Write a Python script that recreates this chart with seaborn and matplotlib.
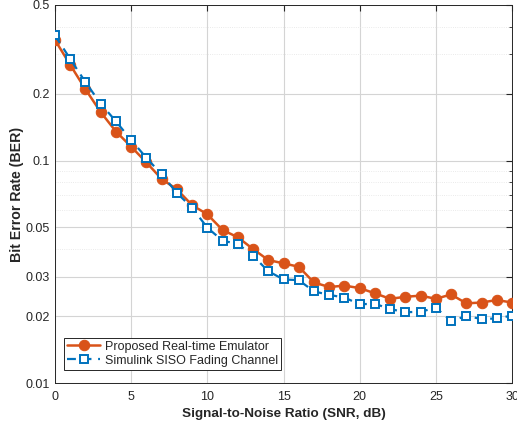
import numpy as np
import pandas as pd
import seaborn as sns
import matplotlib
matplotlib.use("Agg")
import matplotlib.pyplot as plt
from matplotlib.ticker import FixedLocator, NullFormatter, LogLocator

snr = list(range(0, 31))
ber_emulator = [0.348, 0.269, 0.209, 0.165, 0.135, 0.1154, 0.098, 0.0826, 0.0742, 0.063,
                0.0573, 0.0487, 0.0452, 0.040, 0.0357, 0.0345, 0.0333, 0.0283, 0.0270, 0.0274,
                0.0267, 0.0253, 0.0239, 0.0244, 0.0247, 0.0239, 0.0250, 0.0228, 0.0230, 0.0236,
                0.0230]
ber_simulink = [0.365, 0.286, 0.225, 0.180, 0.150, 0.1236, 0.1028, 0.0866, 0.0715, 0.0613,
                0.0499, 0.0436, 0.0422, 0.0373, 0.0318, 0.0292, 0.0290, 0.0258, 0.0249, 0.0242,
                0.0226, 0.0227, 0.0215, 0.0208, 0.0209, 0.0218, 0.0190, 0.0200, 0.0194, 0.0195,
                0.0201]
series_names = ["Proposed Real-time Emulator", "Simulink SISO Fading Channel"]
y_ticks = [0.01, 0.02, 0.03, 0.05, 0.1, 0.2, 0.5]
y_tick_labels = ["0.01", "0.02", "0.03", "0.05", "0.1", "0.2", "0.5"]
x_ticks = [0, 5, 10, 15, 20, 25, 30]

df = pd.DataFrame({
    "SNR": snr * 2,
    "BER": ber_emulator + ber_simulink,
    "Series": [series_names[0]] * len(snr) + [series_names[1]] * len(snr),
})

sns.set_style("white")
plt.rcParams["font.family"] = ["Liberation Sans", "DejaVu Sans"]

orange = (0.850, 0.325, 0.098)
blue = (0.0, 0.447, 0.741)

fig = plt.figure(figsize=(5.17, 4.21), dpi=100)
ax = fig.add_axes([55 / 517, 38 / 421, 457 / 517, 378 / 421])

sns.lineplot(data=df[df.Series == series_names[0]], x="SNR", y="BER", ax=ax,
             color=orange, lw=1.8, marker="o", markersize=7.5, markeredgecolor=orange,
             markerfacecolor=orange, label=series_names[0], zorder=3)
sns.lineplot(data=df[df.Series == series_names[1]], x="SNR", y="BER", ax=ax,
             color=blue, lw=1.6, marker="s", markersize=5.5, markeredgecolor=blue,
             markeredgewidth=1.4, markerfacecolor="white", dashes=False,
             label=series_names[1], zorder=4)
ax.lines[1].set_linestyle((0, (4, 3)))

ax.set_yscale("log")
ax.set_xlim(0, 30)
ax.set_ylim(0.01, 0.5)
ax.xaxis.set_major_locator(FixedLocator(x_ticks))
ax.set_xticklabels([str(t) for t in x_ticks])
ax.yaxis.set_major_locator(FixedLocator(y_ticks))
ax.set_yticklabels(y_tick_labels)
ax.yaxis.set_minor_locator(LogLocator(base=10, subs=np.arange(2, 10)))
ax.yaxis.set_minor_formatter(NullFormatter())

ax.grid(True, which="major", color="#d4d4d4", lw=0.8)
ax.grid(True, which="minor", axis="y", color="#e3e3e3", lw=0.6, ls=":")
ax.set_axisbelow(True)

for s in ax.spines.values():
    s.set_visible(True)
    s.set_color("#262626")
    s.set_linewidth(0.7)

ax.tick_params(axis="both", which="both", direction="in", top=True, right=True,
               labelsize=9, colors="#262626", length=4)
ax.tick_params(which="minor", length=2.5)
ax.tick_params(axis="x", pad=6)

ax.set_xlabel("Signal-to-Noise Ratio (SNR, dB)", fontsize=9.7, fontweight="bold", labelpad=3)
ax.set_ylabel("Bit Error Rate (BER)", fontsize=10.2, fontweight="bold", labelpad=1)

leg = ax.legend(loc="lower left", bbox_to_anchor=(0.012, 0.025), fontsize=9,
                frameon=True, fancybox=False, edgecolor="#262626", framealpha=1,
                borderpad=0.25, labelspacing=0.15, handlelength=2.6, handletextpad=0.4,
                borderaxespad=0.3)
leg.get_frame().set_linewidth(0.7)

fig.savefig("out.png", dpi=100)
